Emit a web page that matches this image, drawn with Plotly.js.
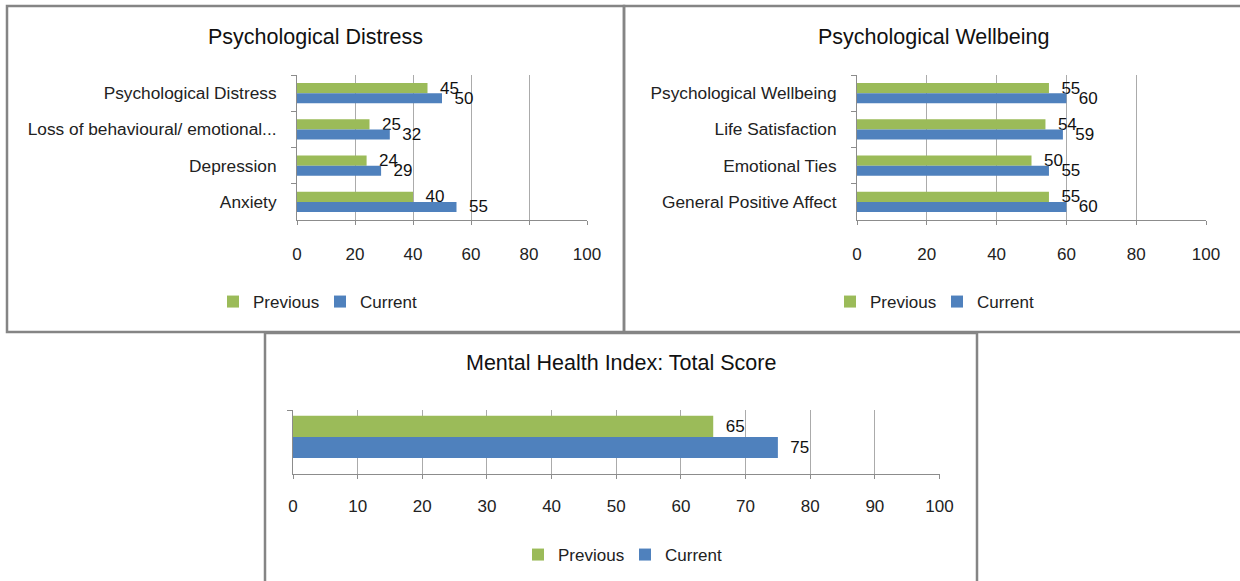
<!DOCTYPE html>
<html><head><meta charset="utf-8">
<script src="https://cdn.plot.ly/plotly-3.0.1.min.js"></script>
<style>html,body{margin:0;padding:0;background:#fff}#chart{width:1240px;height:581px}</style>
</head><body><div id="chart"></div>
<script>
// ---- data ----
const distressCategories = ['Psychological Distress', 'Loss of behavioural/ emotional...', 'Depression', 'Anxiety'];
const distressPrevious = [45, 25, 24, 40];
const distressCurrent = [50, 32, 29, 55];

const wellbeingCategories = ['Psychological Wellbeing', 'Life Satisfaction', 'Emotional Ties', 'General Positive Affect'];
const wellbeingPrevious = [55, 54, 50, 55];
const wellbeingCurrent = [60, 59, 55, 60];

const totalCategories = ['Total Score'];
const totalPrevious = [65];
const totalCurrent = [75];

const seriesNames = ['Previous', 'Current'];
const chartTitles = ['Psychological Distress', 'Psychological Wellbeing', 'Mental Health Index: Total Score'];
const ticks20 = [0, 20, 40, 60, 80, 100];
const ticks10 = [0, 10, 20, 30, 40, 50, 60, 70, 80, 90, 100];

// ---- style ----
const W = 1240, H = 581;
const fx = x => x / W;
const fy = y => 1 - y / H;
const GREEN = '#9BBB59', BLUE = '#4F81BD';
const FONT = 'Liberation Sans, Arial, sans-serif';
const GRID = '#ababab', AXIS = '#8c8c8c';
const NB = '\u00a0\u00a0';

function barTrace(name, cats, vals, color, xa, ya, legend, offset, width) {
  return {
    type: 'bar', orientation: 'h', name: name,
    x: vals, y: cats, xaxis: xa, yaxis: ya, legend: legend,
    marker: {color: color, line: {width: 0}},
    offset: offset, width: width,
    text: vals.map(v => NB + v), textposition: 'outside', constraintext: 'none',
    textfont: {family: FONT, size: 17, color: '#111'}, cliponaxis: false,
    hoverinfo: 'x+y'
  };
}

const data = [
  barTrace(seriesNames[0], distressCategories, distressPrevious, GREEN, 'x', 'y', 'legend', -0.28, 0.28),
  barTrace(seriesNames[1], distressCategories, distressCurrent, BLUE, 'x', 'y', 'legend', 0, 0.28),
  barTrace(seriesNames[0], wellbeingCategories, wellbeingPrevious, GREEN, 'x2', 'y2', 'legend2', -0.28, 0.28),
  barTrace(seriesNames[1], wellbeingCategories, wellbeingCurrent, BLUE, 'x2', 'y2', 'legend2', 0, 0.28),
  barTrace(seriesNames[0], totalCategories, totalPrevious, GREEN, 'x3', 'y3', 'legend3', -0.41, 0.33),
  barTrace(seriesNames[1], totalCategories, totalCurrent, BLUE, 'x3', 'y3', 'legend3', -0.08, 0.33)
];

function xAxis(domain, anchor, tickvals, standoff) {
  return {
    domain: domain, anchor: anchor, range: [0, 100], tickvals: tickvals,
    showgrid: true, gridcolor: GRID, gridwidth: 1, zeroline: false,
    showline: true, linecolor: AXIS, linewidth: 1,
    ticks: 'outside', ticklen: 4, tickcolor: AXIS,
    tickfont: {family: FONT, size: 17, color: '#222'},
    ticklabelstandoff: standoff, fixedrange: true
  };
}
function yAxis(domain, anchor, showLabels) {
  return {
    domain: domain, anchor: anchor, type: 'category', autorange: 'reversed',
    showgrid: false, zeroline: false, showline: true, linecolor: AXIS, linewidth: 1,
    ticks: 'outside', ticklen: 5, tickcolor: AXIS, tickson: 'boundaries',
    showticklabels: showLabels,
    tickfont: {family: FONT, size: 17.3, color: '#222'},
    ticklabelstandoff: 16, fixedrange: true
  };
}

function legendAt(x, y) {
  return {
    x: x, y: y, xanchor: 'center', yanchor: 'middle', orientation: 'h',
    font: {family: FONT, size: 17, color: '#222'}, bgcolor: 'rgba(0,0,0,0)',
    traceorder: 'normal', itemwidth: 30, entrywidth: 62, entrywidthmode: 'pixels'
  };
}

function title(text, x, y) {
  return {text: text, x: x, y: y, xref: 'paper', yref: 'paper', xanchor: 'center', yanchor: 'middle',
          showarrow: false, font: {family: FONT, size: 21.5, color: '#111'}};
}

function box(x0, y0, x1, y1) {
  return {type: 'rect', xref: 'paper', yref: 'paper', x0: fx(x0), x1: fx(x1), y0: fy(y1), y1: fy(y0),
          line: {color: '#858585', width: 2.5}, fillcolor: 'rgba(0,0,0,0)', layer: 'below'};
}

const layout = {
  width: W, height: H, margin: {l: 0, r: 0, t: 0, b: 0},
  paper_bgcolor: '#fff', plot_bgcolor: '#fff',
  barmode: 'overlay', showlegend: true,
  xaxis: xAxis([fx(297), fx(587)], 'y', ticks20, 15),
  yaxis: yAxis([fy(220), fy(75)], 'x', true),
  xaxis2: xAxis([fx(857), fx(1206)], 'y2', ticks20, 15),
  yaxis2: yAxis([fy(220), fy(75)], 'x2', true),
  xaxis3: xAxis([fx(293), fx(939.5)], 'y3', ticks10, 13),
  yaxis3: yAxis([fy(474), fy(410)], 'x3', false),
  legend: legendAt(fx(320), fy(302)),
  legend2: legendAt(fx(937), fy(302)),
  legend3: legendAt(fx(625), fy(555)),
  annotations: [
    title(chartTitles[0], fx(315), fy(37)),
    title(chartTitles[1], fx(933), fy(37)),
    title(chartTitles[2], fx(621), fy(363))
  ],
  shapes: [
    box(7, 6, 624, 332),
    box(624, 6, 1243, 332),
    box(265, 333, 977, 590)
  ]
};

Plotly.newPlot('chart', data, layout, {displayModeBar: false, staticPlot: true});
</script>
</body></html>
